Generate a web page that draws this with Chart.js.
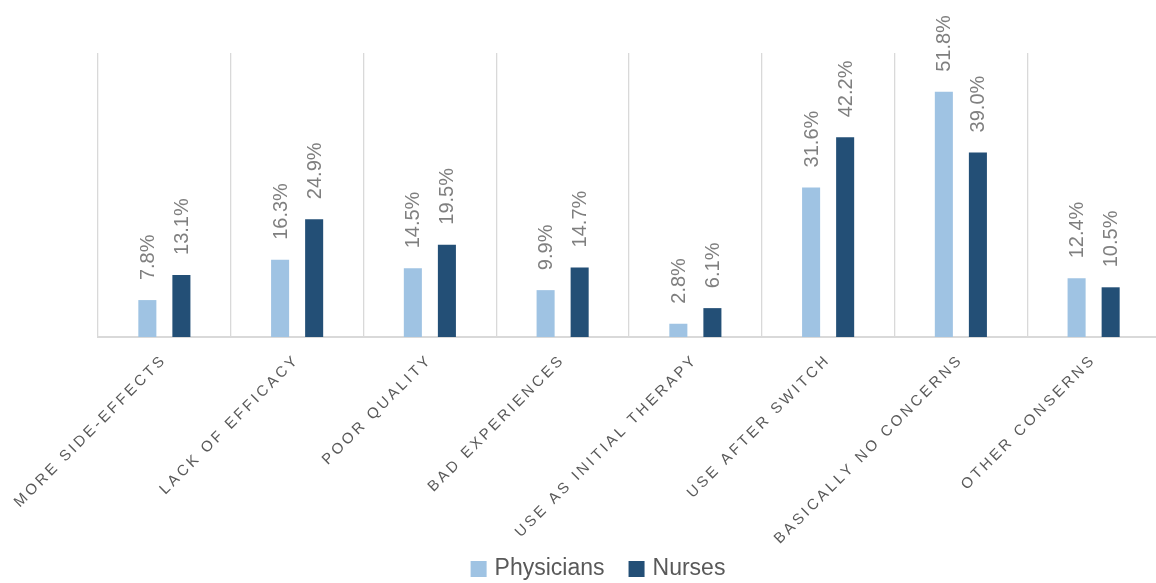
<!DOCTYPE html>
<html>
<head>
<meta charset="utf-8">
<script src="https://cdn.jsdelivr.net/npm/chart.js@4/dist/chart.umd.min.js"></script>
<style>
    html, body { margin: 0; padding: 0; background: #fff; overflow: hidden; }
    #wrap { width: 1160px; height: 583px; position: relative; }
</style>
</head>
<body>
<div id="wrap"><canvas id="chart"></canvas></div>
<script>
var categories = ['MORE SIDE-EFFECTS', 'LACK OF EFFICACY', 'POOR QUALITY', 'BAD EXPERIENCES',
    'USE AS INITIAL THERAPY', 'USE AFTER SWITCH', 'BASICALLY NO CONCERNS', 'OTHER CONSERNS'];
var physicians = [7.8, 16.3, 14.5, 9.9, 2.8, 31.6, 51.8, 12.4];
var nurses = [13.1, 24.9, 19.5, 14.7, 6.1, 42.2, 39.0, 10.5];

var PLOT_BOTTOM = 337;

// rotated value labels above each bar, then letter spacing for the x labels (drawn after datasets)
var barLabels = {
    id: 'barLabels',
    afterDatasetsDraw: function (chart) {
        var ctx = chart.ctx;
        ctx.save();
        ctx.letterSpacing = '0px';
        ctx.font = '20px "Liberation Sans"';
        ctx.fillStyle = '#7f7f7f';
        ctx.textAlign = 'left';
        ctx.textBaseline = 'middle';
        chart.data.datasets.forEach(function (ds, i) {
            chart.getDatasetMeta(i).data.forEach(function (bar, j) {
                ctx.save();
                ctx.translate(bar.x + 1, bar.y - 20);
                ctx.rotate(-Math.PI / 2);
                ctx.fillText(ds.data[j].toFixed(1) + '%', 0, 0);
                ctx.restore();
            });
        });
        ctx.restore();
        ctx.letterSpacing = '3px';
    },
    afterDraw: function (chart) {
        chart.ctx.letterSpacing = '0px';
    }
};

// legend under the axis labels (the built-in one would clip the rotated labels)
var bottomLegend = {
    id: 'bottomLegend',
    afterDraw: function (chart, args, opts) {
        var ctx = chart.ctx;
        ctx.save();
        ctx.letterSpacing = '0px';
        ctx.font = opts.size + 'px "Liberation Sans"';
        ctx.textBaseline = 'middle';
        ctx.textAlign = 'left';
        var items = chart.data.datasets.map(function (ds) {
            return { text: ds.label, color: ds.backgroundColor, w: ctx.measureText(ds.label).width };
        });
        var total = 0;
        items.forEach(function (it, i) {
            total += opts.box + opts.gap + it.w + (i ? opts.spacing : 0);
        });
        var x = opts.centerX - total / 2;
        items.forEach(function (it) {
            ctx.fillStyle = it.color;
            ctx.fillRect(x, opts.y - opts.box / 2, opts.box, opts.box);
            ctx.fillStyle = '#595959';
            ctx.fillText(it.text, x + opts.box + opts.gap, opts.y);
            x += opts.box + opts.gap + it.w + opts.spacing;
        });
        ctx.restore();
    }
};

new Chart(document.getElementById('chart').getContext('2d'), {
    type: 'bar',
    data: {
        labels: categories,
        datasets: [{
            label: 'Physicians',
            data: physicians,
            backgroundColor: '#9fc3e3',
            borderWidth: 0,
            categoryPercentage: 0.513,
            barPercentage: 0.53
        }, {
            label: 'Nurses',
            data: nurses,
            backgroundColor: '#234f76',
            borderWidth: 0,
            categoryPercentage: 0.513,
            barPercentage: 0.53
        }]
    },
    options: {
        responsive: true,
        maintainAspectRatio: false,
        animation: false,
        events: [],
        layout: { padding: { top: 53, left: 98, right: 0, bottom: 0 } },
        scales: {
            x: {
                grid: { color: '#d9d9d9', lineWidth: 1.3, drawTicks: false, offset: true },
                border: { color: '#d9d9d9', width: 2 },
                ticks: {
                    z: 1,
                    autoSkip: false,
                    maxRotation: 45,
                    minRotation: 45,
                    padding: 14,
                    color: '#595959',
                    font: { family: '"Liberation Sans"', size: 15 }
                },
                afterFit: function (s) {
                    s.height = s.chart.height - PLOT_BOTTOM;
                }
            },
            y: { display: false, min: 0, max: 60 }
        },
        plugins: {
            tooltip: { enabled: false },
            legend: { display: false },
            bottomLegend: { centerX: 598, y: 569, box: 16, gap: 8, spacing: 24, size: 23 }
        }
    },
    plugins: [barLabels, bottomLegend]
});
</script>
</body>
</html>
